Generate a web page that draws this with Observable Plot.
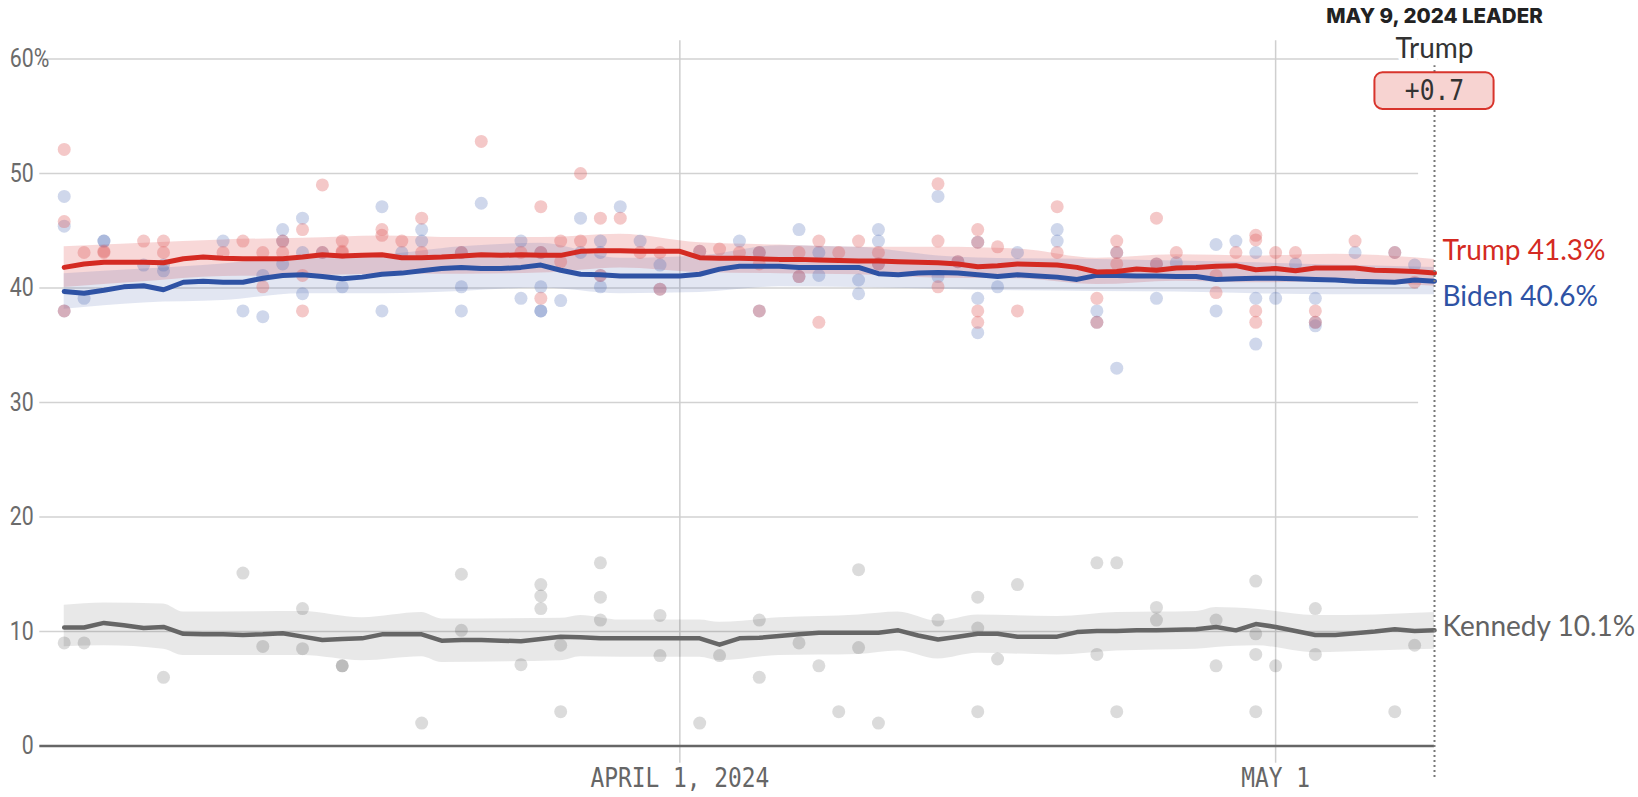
<!DOCTYPE html>
<html><head><meta charset="utf-8">
<script src="https://cdn.jsdelivr.net/npm/d3@7"></script>
<script src="https://cdn.jsdelivr.net/npm/@observablehq/plot@0.6"></script>
<style>body{margin:0;background:#fff} svg{display:block}</style>
</head><body><div id="chart"></div>
<script>
// ---- data (day offsets from March 1, 2024) ----
const startDay = Date.UTC(2024, 2, 1);
const at = d => new Date(startDay + d * 864e5);

const trumpAvg = [41.8,42.1,42.25,42.25,42.25,42.2,42.55,42.7,42.6,42.55,42.55,42.55,42.7,42.9,42.8,42.85,42.9,42.65,42.65,42.7,
  42.8,42.9,42.85,42.9,42.85,42.85,43.2,43.25,43.25,43.2,43.2,43.2,42.65,42.6,42.6,42.55,42.5,42.5,42.45,42.4,
  42.35,42.35,42.3,42.25,42.2,42.1,41.85,41.95,42.1,42.05,42.0,41.8,41.4,41.45,41.65,41.55,41.75,41.8,41.9,41.95,
  41.6,41.7,41.5,41.75,41.75,41.75,41.55,41.5,41.45,41.3];
const bidenAvg = [39.7,39.55,39.8,40.1,40.2,39.85,40.5,40.6,40.5,40.5,40.85,41.1,41.15,41.0,40.8,40.95,41.2,41.3,41.5,41.7,
  41.8,41.7,41.7,41.8,42.0,41.55,41.2,41.15,41.05,41.05,41.05,41.05,41.2,41.65,41.9,41.9,41.9,41.8,41.8,41.8,
  41.8,41.25,41.15,41.3,41.35,41.3,41.15,41.0,41.15,41.05,40.95,40.75,41.1,41.1,41.05,41.05,41.0,41.0,40.75,40.8,
  40.85,40.85,40.8,40.75,40.7,40.6,40.55,40.5,40.7,40.6];
const kennedyAvg = [10.35,10.35,10.75,10.55,10.3,10.4,9.8,9.75,9.75,9.7,9.75,9.85,9.55,9.25,9.35,9.4,9.75,9.75,9.75,9.2,
  9.25,9.25,9.2,9.15,9.35,9.55,9.5,9.4,9.4,9.4,9.4,9.4,9.4,8.85,9.4,9.45,9.6,9.75,9.9,9.9,
  9.9,9.9,10.1,9.65,9.3,9.55,9.8,9.8,9.55,9.55,9.55,9.95,10.05,10.05,10.1,10.1,10.15,10.2,10.4,10.1,
  10.65,10.4,10.05,9.7,9.7,9.85,10.0,10.2,10.05,10.1];

const bandDays = [0,4,8,12,16,20,24,28,32,36,40,44,48,52,56,60,64,69];
const trumpHi = [43.6,43.9,44.2,44.35,44.55,44.4,44.4,44.7,43.95,43.75,43.55,43.55,43.4,42.6,42.9,42.8,42.95,42.5];
const trumpLo = [40.05,40.55,41.0,41.05,41.2,41.2,41.3,41.75,41.35,41.25,41.15,40.85,40.8,40.3,40.6,40.45,40.55,40.15];
const bidenHi = [41.25,41.65,42.1,42.75,42.9,43.6,43.9,42.6,42.8,43.7,43.55,42.8,42.55,42.5,42.35,42.2,42.0,41.8];
const bidenLo = [38.15,38.7,38.9,39.5,39.5,39.7,40.0,39.5,39.6,40.1,40.05,39.9,39.75,39.7,39.65,39.5,39.4,39.4];

const kennedyBandDays = [0,2,5,6,12,15,18,19,25,26,28,32,33,36,40,42,44,46,50,53,57,58,60,63,66,69];
const kennedyHi = [12.3,12.5,12.4,11.7,11.75,11.2,11.65,11.1,11.15,11.4,11.0,11.0,10.8,11.2,11.45,11.7,10.9,11.45,11.3,11.65,11.75,12.1,11.95,11.4,11.45,11.65];
const kennedyLo = [8.66,8.75,8.45,7.9,7.9,7.45,7.8,7.3,7.45,7.8,7.75,7.75,7.45,7.9,8.0,8.3,7.6,8.1,7.95,8.3,8.45,8.6,8.75,8.15,8.3,8.45];

const trumpPollDays = [0,0,0,1,2,2,4,5,5,8,9,10,10,11,11,12,12,12,13,13,14,14,14,16,16,17,18,18,20,21,23,24,24,24,25,25,26,26,27,27,28,29,30,30,
  32,33,34,35,35,35,37,37,38,38,39,40,41,41,44,44,44,45,46,46,46,46,47,48,50,50,52,52,53,53,53,55,55,56,58,58,59,60,60,60,60,61,62,63,63,65,67,68];
const trumpPollValues = [52.1,45.8,38.0,43.1,43.1,43.2,44.1,44.1,43.1,43.1,44.1,43.1,40.1,44.1,43.1,45.1,41.1,38.0,49.0,43.1,44.1,43.1,43.2,45.1,44.6,44.1,46.1,43.1,43.1,52.8,43.1,47.1,43.1,39.1,44.1,42.3,50.0,44.1,46.1,41.1,46.1,43.1,43.1,39.9,
  43.2,43.4,43.1,43.1,42.1,38.0,43.1,41.0,44.1,37.0,43.1,44.1,43.1,42.1,49.1,44.1,40.1,42.3,45.1,44.0,38.0,37.0,43.6,38.0,47.1,43.1,39.1,37.0,44.1,43.1,42.1,46.1,42.1,43.1,41.1,39.6,43.1,44.6,44.2,38.0,37.0,43.1,43.1,38.0,37.0,44.1,43.1,40.5];

const bidenPollDays = [0,0,0,1,2,2,4,5,5,8,9,10,10,11,11,11,12,12,12,13,14,16,16,17,18,18,20,20,20,21,23,23,24,24,24,24,25,26,26,27,27,27,27,28,29,30,30,
  32,34,35,35,37,37,38,38,40,40,41,41,41,44,44,45,46,46,46,47,48,50,50,52,52,53,53,55,55,56,58,58,59,60,60,60,61,62,63,63,63,65,67,68];
const bidenPollValues = [48.0,45.4,38.0,39.1,44.1,44.1,42.0,42.0,41.5,44.1,38.0,41.1,37.5,45.1,44.1,42.1,46.1,43.1,39.5,43.1,40.1,47.1,38.0,43.1,45.1,44.1,43.1,40.1,38.0,47.4,44.1,39.1,43.1,40.1,38.0,38.0,38.9,46.1,43.1,44.1,43.1,41.1,40.1,47.1,44.1,42.0,39.9,
  43.2,44.1,43.1,38.0,45.1,41.0,43.1,41.1,40.7,39.5,45.1,44.1,42.1,48.0,41.0,42.3,44.0,39.1,36.1,40.1,43.1,45.1,44.1,38.0,37.0,43.1,33.0,42.1,39.1,42.2,43.8,38.0,44.1,43.1,39.1,35.1,39.1,42.1,39.1,37.0,36.7,43.1,43.1,42.0];

const kennedyPollDays = [0,1,5,9,10,12,12,14,14,18,20,20,23,24,24,24,25,25,27,27,27,30,30,32,33,35,35,37,38,39,40,40,41,44,46,46,46,47,48,52,52,53,53,55,55,58,58,60,60,60,60,61,63,63,67,68];
const kennedyPollValues = [9.0,9.0,6.0,15.1,8.7,12.0,8.5,7.0,7.0,2.0,15.0,10.1,7.1,14.1,13.1,12.0,8.8,3.0,16.0,13.0,11.0,11.4,7.9,2.0,7.9,11.0,6.0,9.0,7.0,3.0,15.4,8.6,2.0,11.0,13.0,10.3,3.0,7.6,14.1,16.0,8.0,16.0,3.0,12.1,11.0,11.0,7.0,14.4,9.8,8.0,3.0,7.0,12.0,8.0,3.0,8.8];

const yTicks = [0, 10, 20, 30, 40, 50, 60];
const xTickDays = [31, 61];
const xTickLabels = ["APRIL 1, 2024", "MAY 1"];
const endDay = 69;
const endLabels = ["Trump 41.3%", "Biden 40.6%", "Kennedy 10.1%"];
const endLabelY = [42.46, 38.47, 9.65];
const leaderTitle = "MAY 9, 2024 LEADER";
const leaderName = "Trump";
const leaderMargin = "+0.7";
const annotationY = [63.13, 60.13, 57.2];   // title baseline, name baseline, box centre
const leaderBox = [{x1: at(66), x2: at(72), y1: 55.6, y2: 58.8}];
const gridX = [-1.229, 68.2];
const frameY = [-1.5, 61.6];
const dottedY = [-2.75, 59.4];

// ---- colours ----
const RED = "#d42a22", BLUE = "#2e52a4", GRAY = "#666666";

const series = arr => arr.map((v, i) => ({date: at(i), value: v}));
const band = (days, lo, hi) => days.map((d, i) => ({date: at(d), lo: lo[i], hi: hi[i]}));
const polls = (days, vals) => days.map((d, i) => ({date: at(d), value: vals[i]}));

const narrowSans = "Roboto, sans-serif";
const mono = "'DejaVu Sans Mono','Liberation Mono',monospace";

const chart = Plot.plot({
  width: 1638, height: 797,
  marginLeft: 39.3, marginRight: 204, marginTop: 58.5, marginBottom: 51.5,
  style: {fontFamily: "Lato, sans-serif", background: "#fff", overflow: "visible"},
  x: {type: "utc", domain: [at(gridX[0]), at(endDay)], axis: null},
  y: {domain: [0, 60], axis: null},
  marks: [
    Plot.ruleY(yTicks.filter(t => t > 0), {x1: () => at(gridX[0]), x2: () => at(gridX[1]), stroke: "#d2d2d2", strokeWidth: 1.5}),
    Plot.ruleX(xTickDays, {x: d => at(d), y1: () => frameY[0], y2: () => frameY[1], stroke: "#cfcfcf", strokeWidth: 1.5}),
    Plot.ruleY([0], {x1: () => at(gridX[0]), x2: () => at(endDay), stroke: "#666", strokeWidth: 2.5}),

    Plot.areaY(band(kennedyBandDays, kennedyLo, kennedyHi), {x: "date", y1: "lo", y2: "hi", fill: "#000", fillOpacity: 0.09, curve: "monotone-x"}),
    Plot.areaY(band(bandDays, trumpLo, trumpHi), {x: "date", y1: "lo", y2: "hi", fill: "#dc3c3c", fillOpacity: 0.2, curve: "monotone-x"}),
    Plot.areaY(band(bandDays, bidenLo, bidenHi), {x: "date", y1: "lo", y2: "hi", fill: "#3c5aaa", fillOpacity: 0.15, curve: "monotone-x"}),

    Plot.dot(polls(kennedyPollDays, kennedyPollValues), {x: "date", y: "value", r: 6.5, fill: "#000", fillOpacity: 0.14}),
    Plot.dot(polls(bidenPollDays, bidenPollValues), {x: "date", y: "value", r: 6.5, fill: "#4060b0", fillOpacity: 0.25}),
    Plot.dot(polls(trumpPollDays, trumpPollValues), {x: "date", y: "value", r: 6.5, fill: "#e06060", fillOpacity: 0.35}),

    Plot.line(series(kennedyAvg), {x: "date", y: "value", stroke: GRAY, strokeWidth: 4.5, strokeLinejoin: "round"}),
    Plot.line(series(bidenAvg), {x: "date", y: "value", stroke: BLUE, strokeWidth: 5, strokeLinejoin: "round"}),
    Plot.line(series(trumpAvg), {x: "date", y: "value", stroke: RED, strokeWidth: 5, strokeLinejoin: "round"}),

    Plot.ruleX([endDay], {x: d => at(d), y1: () => dottedY[0], y2: () => dottedY[1], stroke: "#777", strokeWidth: 2, strokeDasharray: "2,3"}),

    // y tick labels (text marks 0 and 1)
    Plot.text(yTicks, {y: d => d, text: d => String(d), frameAnchor: "left", dx: -6, textAnchor: "end", fontSize: 26, fontFamily: narrowSans, fill: "#6b6b6b"}),
    Plot.text(["%"], {y: () => yTicks[yTicks.length - 1], frameAnchor: "left", dx: -6, textAnchor: "start", fontSize: 26, fontFamily: narrowSans, fill: "#6b6b6b"}),
    // x tick labels (text mark 2)
    Plot.text(xTickLabels, {x: (d, i) => at(xTickDays[i]), text: d => d, frameAnchor: "bottom", dy: 40.5, lineAnchor: "bottom", fontSize: 26, fontFamily: mono, fill: "#666"}),

    // end labels (3-5)
    Plot.text([endLabels[0]], {x: () => at(endDay), y: () => endLabelY[0], text: d => d, textAnchor: "start", dx: 8, lineAnchor: "bottom", fontSize: 28, fill: RED}),
    Plot.text([endLabels[1]], {x: () => at(endDay), y: () => endLabelY[1], text: d => d, textAnchor: "start", dx: 8, lineAnchor: "bottom", fontSize: 28, fill: BLUE}),
    Plot.text([endLabels[2]], {x: () => at(endDay), y: () => endLabelY[2], text: d => d, textAnchor: "start", dx: 8, lineAnchor: "bottom", fontSize: 28, fill: "#636363"}),

    // leader annotation (6-8)
    Plot.text([leaderTitle], {x: () => at(endDay), y: () => annotationY[0], text: d => d, lineAnchor: "bottom", fontSize: 20.5, fontWeight: 800, fontFamily: "Inter, sans-serif", fill: "#222"}),
    Plot.text([leaderName], {x: () => at(endDay), y: () => annotationY[1], text: d => d, lineAnchor: "bottom", fontSize: 28, fill: "#333", stroke: "#fff", strokeWidth: 8}),
    Plot.rect(leaderBox, {x1: "x1", x2: "x2", y1: "y1", y2: "y2", fill: "#f7d3d1", stroke: "#d8342c", strokeWidth: 2, rx: 8}),
    Plot.text([leaderMargin], {x: () => at(endDay), y: () => annotationY[2], text: d => d, lineAnchor: "middle", fontSize: 28, fontFamily: mono, fill: "#333"})
  ]
});

document.getElementById("chart").appendChild(chart);

// narrow the condensed-style labels horizontally about their anchor point
function squeeze(el, sx) {
  const b = el.getBBox();
  const anchor = getComputedStyle(el).textAnchor;
  const ax = anchor === "end" ? b.x + b.width : anchor === "middle" ? b.x + b.width / 2 : b.x;
  const t = el.getAttribute("transform") || "";
  el.setAttribute("transform", `${t} translate(${ax},0) scale(${sx},1) translate(${-ax},0)`);
}
const textGroups = chart.querySelectorAll('g[aria-label="text"]');
const squeezeBy = {0: 0.82, 1: 0.82, 2: 0.88, 8: 0.88};
textGroups.forEach((g, i) => {
  if (squeezeBy[i]) g.querySelectorAll("text").forEach(el => squeeze(el, squeezeBy[i]));
});
</script></body></html>
